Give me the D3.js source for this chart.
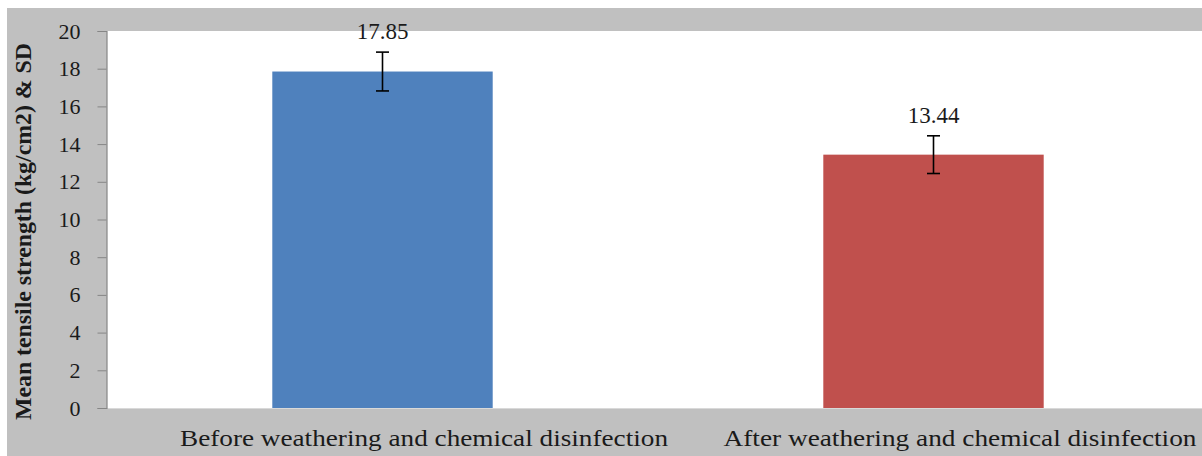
<!DOCTYPE html>
<html><head><meta charset="utf-8">
<script src="https://cdn.jsdelivr.net/npm/d3@7"></script>
<style>html,body{margin:0;padding:0;background:#fff;}svg{display:block;}</style>
</head><body>
<svg id="chart" width="1202" height="456"></svg>
<script>
const categories = ["Before weathering and chemical disinfection", "After weathering and chemical disinfection"];
const means = [17.85, 13.44];
const sds = [1.03, 1.0];
const barColors = ["#4f81bd", "#c0504d"];
const yTicks = [0, 2, 4, 6, 8, 10, 12, 14, 16, 18, 20];
const yTitle = "Mean tensile strength (kg/cm2) & SD";

const svg = d3.select("#chart");
const W = 1202, H = 456;
const plot = {left: 107, right: 1209, top: 31, bottom: 408};
const serif = "Liberation Serif, Times New Roman, serif";

svg.append("rect").attr("x", 7).attr("y", 8).attr("width", W - 7).attr("height", H - 8).attr("fill", "#c0c0c0");
svg.append("rect").attr("x", plot.left).attr("y", plot.top)
  .attr("width", plot.right - plot.left).attr("height", plot.bottom - plot.top).attr("fill", "#fff");

const x = d3.scaleBand().domain(categories).range([plot.left, plot.right])
  .paddingInner(0.6).paddingOuter(0.3);
const y = d3.scaleLinear().domain([0, 20]).range([plot.bottom, plot.top]);

svg.append("line").attr("x1", plot.left).attr("x2", plot.right)
  .attr("y1", plot.bottom + 0.5).attr("y2", plot.bottom + 0.5).attr("stroke", "#d9d9d9");

// bars
svg.selectAll("rect.bar").data(categories).enter().append("rect").attr("class", "bar")
  .attr("x", d => x(d)).attr("width", x.bandwidth())
  .attr("y", (d, i) => y(means[i])).attr("height", (d, i) => y(0) - y(means[i]))
  .attr("fill", (d, i) => barColors[i]);

// error bars
const eb = svg.selectAll("g.eb").data(categories).enter().append("g").attr("class", "eb")
  .attr("stroke", "#000").attr("stroke-width", 1.6);
eb.append("line").attr("x1", d => x(d) + x.bandwidth() / 2).attr("x2", d => x(d) + x.bandwidth() / 2)
  .attr("y1", (d, i) => y(means[i] + sds[i])).attr("y2", (d, i) => y(means[i] - sds[i]));
[1, -1].forEach(s => {
  eb.append("line").attr("x1", d => x(d) + x.bandwidth() / 2 - 6.5).attr("x2", d => x(d) + x.bandwidth() / 2 + 6.5)
    .attr("y1", (d, i) => y(means[i] + s * sds[i])).attr("y2", (d, i) => y(means[i] + s * sds[i]));
});

// value labels
svg.selectAll("text.val").data(categories).enter().append("text").attr("class", "val")
  .attr("x", d => x(d) + x.bandwidth() / 2)
  .attr("y", (d, i) => y(means[i] + sds[i]) - 13)
  .attr("text-anchor", "middle").attr("font-family", serif)
  .attr("font-size", 23).attr("fill", "#1a1a1a")
  .text((d, i) => means[i].toFixed(2));

// y axis
const yAxis = d3.axisLeft(y).tickValues(yTicks).tickSize(9).tickPadding(17).tickFormat(d3.format("d"));
const ga = svg.append("g").attr("transform", `translate(${plot.left - 0.5},0)`).call(yAxis);
ga.select(".domain").attr("stroke", "#868686").attr("stroke-width", 1.2);
ga.selectAll(".tick line").attr("stroke", "#868686");
ga.selectAll(".tick text").attr("font-family", serif)
  .attr("font-size", 22).attr("fill", "#1a1a1a");

// x labels
const xLabelPos = [{cx: 424, w: 488}, {cx: 960, w: 473}];
svg.selectAll("text.xl").data(categories).enter().append("text").attr("class", "xl")
  .attr("x", (d, i) => xLabelPos[i].cx).attr("y", 446)
  .attr("text-anchor", "middle").attr("font-family", serif)
  .attr("font-size", 24).attr("fill", "#1a1a1a")
  .attr("textLength", (d, i) => xLabelPos[i].w).attr("lengthAdjust", "spacingAndGlyphs")
  .text(d => d);

// y title
svg.append("text").attr("transform", "translate(31,231.5) rotate(-90)")
  .attr("text-anchor", "middle").attr("font-family", serif)
  .attr("font-weight", "bold").attr("font-size", 24).attr("fill", "#1a1a1a")
  .attr("textLength", 377).attr("lengthAdjust", "spacingAndGlyphs")
  .text(yTitle);
</script>
</body></html>
